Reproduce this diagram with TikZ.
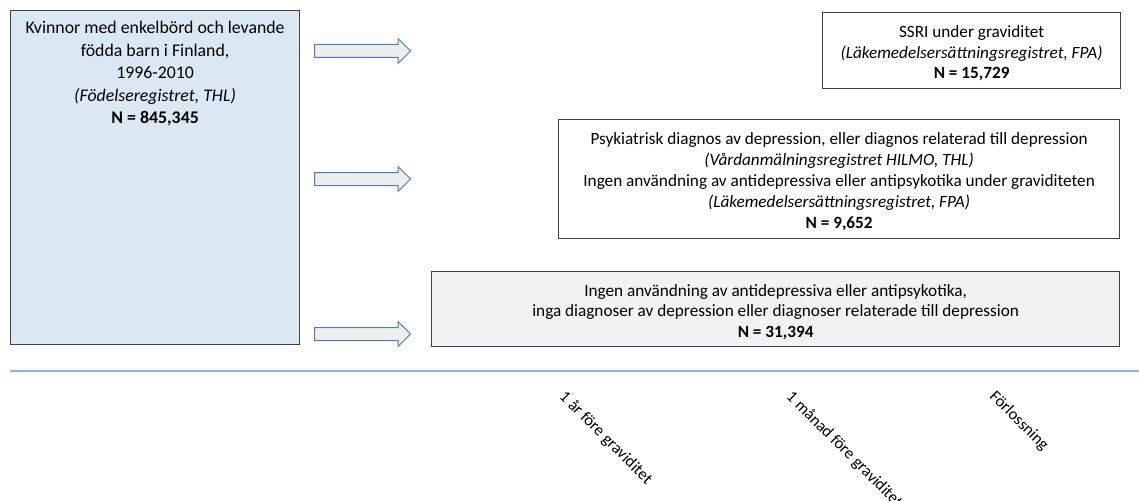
\documentclass[tikz,border=0pt]{standalone}
\usepackage{fontspec}
\setmainfont{Carlito}
\usetikzlibrary{positioning,shapes.arrows}

\definecolor{cohortblue}{HTML}{DAE8F4}
\definecolor{boxgray}{HTML}{F2F2F4}
\definecolor{arrowgray}{HTML}{EEEEEE}
\definecolor{arrowblue}{HTML}{4A7EBB}
\definecolor{lineblue}{HTML}{8AB4E0}
\definecolor{edgegray}{HTML}{404040}

\tikzset{
  regbox/.style={draw=edgegray,line width=1.2pt,rectangle,anchor=north west,
    inner sep=0pt},
  regtext/.style={align=center,inner sep=0pt,yshift=-3pt,
    font=\fontsize{17.2}{20.5}\selectfont},
  blockarrow/.style={single arrow,draw=arrowblue,fill=arrowgray,line width=1pt,
    minimum height=96pt,single arrow head extend=6pt,
    inner xsep=0pt,inner ysep=6pt,anchor=west},
  timelabel/.style={rotate=-45,anchor=north west,inner sep=0pt,
    font=\fontsize{16.5}{20}\selectfont}
}

\begin{document}
\begin{tikzpicture}[x=1pt,y=-1pt]
  \useasboundingbox (0,0) rectangle (1139,500);

  % kohort
  \node[regbox,fill=cohortblue,minimum width=289pt,minimum height=334pt] (cohort) at (10,10) {};
  \node[below=11pt of cohort.north,align=center,inner sep=0pt,
        font=\fontsize{17.8}{22.5}\selectfont] (cohorttext)
    {Kvinnor med enkelbörd och levande\\ födda barn i Finland,\\ 1996-2010\\
     \textit{(Födelseregistret, THL)}\\ \textbf{N = 845,345}};

  % pilar
  \begin{scope}[every node/.style={blockarrow}]
    \node (arr1) at (314,51)  {};
    \node (arr2) at (314,179) {};
    \node (arr3) at (314,334) {};
  \end{scope}

  % grupper
  \node[regbox,minimum width=298pt,minimum height=76pt] (ssri) at (822,12) {};
  \node[regtext] (ssritext) at (ssri.center)
    {SSRI under graviditet\\ \textit{(Läkemedelsersättningsregistret, FPA)}\\ \textbf{N = 15,729}};

  \node[regbox,minimum width=561pt,minimum height=119pt] (depr) at (558,119) {};
  \node[regtext,font=\fontsize{17.2}{21}\selectfont] (deprtext) at (depr.center)
    {Psykiatrisk diagnos av depression, eller diagnos relaterad till depression\\
     \textit{(Vårdanmälningsregistret HILMO, THL)}\\
     Ingen användning av antidepressiva eller antipsykotika under graviditeten\\
     \textit{(Läkemedelsersättningsregistret, FPA)}\\ \textbf{N = 9,652}};

  \node[regbox,fill=boxgray,minimum width=688pt,minimum height=75pt] (ctrl) at (431,271) {};
  \node[regtext] (ctrltext) at (ctrl.center)
    {Ingen användning av antidepressiva eller antipsykotika,\\
     inga diagnoser av depression eller diagnoser relaterade till depression\\
     \textbf{N = 31,394}};

  % tidslinje
  \coordinate (t0) at (10,371);
  \coordinate (t1) at (1139,371);
  \draw[lineblue,line width=1.2pt] (t0) -- (t1);

  \begin{scope}[every node/.style={timelabel}]
    \node (yr)  at (567,389) {1 år före graviditet};
    \node (mon) at (794,389) {1 månad före graviditet};
    \node (del) at (997,389) {Förlossning};
  \end{scope}

\end{tikzpicture}
\end{document}
